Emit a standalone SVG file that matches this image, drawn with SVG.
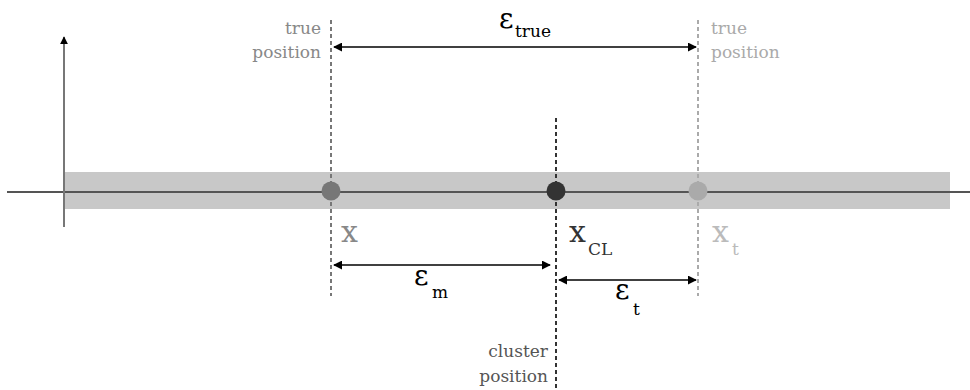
<svg xmlns="http://www.w3.org/2000/svg" width="970" height="390" viewBox="0 0 970 390">
<defs>
<style>
text{font-family:"DejaVu Serif","Liberation Serif",serif;}
.lbl{font-size:17px;}
.eps{font-size:28px;fill:#000;}
.sub{font-size:17px;fill:#000;}
.xv{font-size:30px;}
.dim{stroke:#000;stroke-width:1.5;fill:none;marker-start:url(#ah);marker-end:url(#ah);}
.dash{stroke-width:2;stroke-dasharray:4 3;fill:none;}
</style>
<marker id="ah" viewBox="0 0 10 10" refX="9" refY="5" markerWidth="6" markerHeight="6" orient="auto-start-reverse" markerUnits="strokeWidth">
<path d="M0,0 L10,5 L0,10 z" fill="#000"/>
</marker>
<marker id="ax" viewBox="0 0 10 10" refX="9" refY="5" markerWidth="4" markerHeight="4" orient="auto" markerUnits="strokeWidth">
<path d="M0,0 L10,5 L0,10 z" fill="#000"/>
</marker>
</defs>
<g id="band"><rect x="64" y="172" width="886" height="37" fill="#c8c8c8"/></g>
<g id="axes">
<line x1="7" y1="192" x2="970" y2="192" stroke="#555" stroke-width="2"/>
<line x1="64" y1="227" x2="64" y2="37" stroke="#777" stroke-width="2" marker-end="url(#ax)"/>
</g>
<g id="connectors">
<line class="dash" x1="331" y1="20" x2="331" y2="296" stroke="#777"/>
<line class="dash" x1="556" y1="118" x2="556" y2="390" stroke="#333"/>
<line class="dash" x1="698" y1="20" x2="698" y2="296" stroke="#aaa"/>
<line class="dim" x1="334" y1="47" x2="696" y2="47"/>
<line class="dim" x1="334" y1="265" x2="550" y2="265"/>
<line class="dim" x1="559" y1="280" x2="696" y2="280"/>
</g>
<g id="node-x">
<circle cx="331" cy="191" r="9.5" fill="#777"/>
<text class="xv" x="341" y="242" fill="#888">x</text>
<text class="lbl" x="321" y="34" fill="#888" text-anchor="end">true</text>
<text class="lbl" x="321" y="58" fill="#888" text-anchor="end">position</text>
</g>
<g id="node-xcl">
<circle cx="556" cy="191" r="9.5" fill="#333"/>
<text class="xv" x="569" y="242" fill="#333">x</text>
<text class="lbl" x="588" y="255" fill="#333">CL</text>
<text class="lbl" x="548" y="357" fill="#555" text-anchor="end">cluster</text>
<text class="lbl" x="548" y="382" fill="#555" text-anchor="end">position</text>
</g>
<g id="node-xt">
<circle cx="698" cy="191" r="9.5" fill="#aaa"/>
<text class="xv" x="712" y="242" fill="#bbb">x</text>
<text class="lbl" x="732" y="255" fill="#bbb">t</text>
<text class="lbl" x="711" y="34" fill="#aaa">true</text>
<text class="lbl" x="711" y="58" fill="#aaa">position</text>
</g>
<g id="label-etrue">
<text class="eps" x="499" y="28">ε</text>
<text class="sub" x="515" y="37">true</text>
</g>
<g id="label-em">
<text class="eps" x="414" y="285">ε</text>
<text class="sub" x="432" y="298">m</text>
</g>
<g id="label-et">
<text class="eps" x="615" y="299">ε</text>
<text class="sub" x="633" y="315">t</text>
</g>
</svg>
